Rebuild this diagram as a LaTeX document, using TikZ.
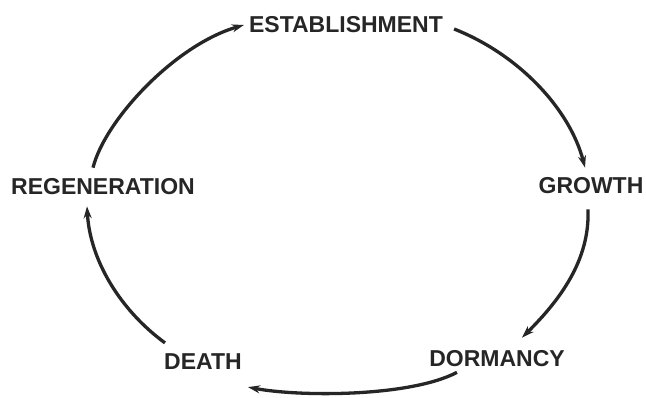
\documentclass[tikz,border=0pt]{standalone}
\usepackage{fontspec}
\setmainfont{Liberation Sans}
\usetikzlibrary{arrows.meta}
\definecolor{ink}{HTML}{262626}
\tikzset{
  stage/.style={font=\fontsize{23}{25}\selectfont\bfseries, text=ink, inner sep=0pt, anchor=center},
  cyc/.style={draw=ink, line width=3.3pt, -{Stealth[length=12pt,width=8pt]}}
}
\begin{document}
\begin{tikzpicture}[x=1pt,y=-1pt]
\useasboundingbox[fill=white] (0,0) rectangle (646,398);
\node[stage] (est) at (346,25) {ESTABLISHMENT};
\node[stage] (gro) at (591,186) {GROWTH};
\node[stage] (reg) at (103,187) {REGENERATION};
\node[stage] (dea) at (203,362) {DEATH};
\node[stage] (dor) at (497,359) {DORMANCY};
\draw[cyc] ([shift={(-10pt,11pt)}]reg.north) .. controls (105,120) and (175,45) .. ([shift={(-5pt,0pt)}]est.west);
\draw[cyc] ([shift={(11pt,-4pt)}]est.east) .. controls (520,55) and (570,110) .. ([shift={(-6pt,10pt)}]gro.north);
\draw[cyc] ([shift={(-3pt,-15pt)}]gro.south) .. controls (590,260) and (560,300) .. ([shift={(25pt,13pt)}]dor.north);
\draw[cyc] ([shift={(-40pt,-5pt)}]dor.south) .. controls (410,397) and (300,397) .. ([shift={(45pt,-17pt)}]dea.south);
\draw[cyc] ([shift={(-38pt,11pt)}]dea.north) .. controls (120,310) and (90,260) .. ([shift={(-16pt,-11pt)}]reg.south);
\end{tikzpicture}
\end{document}
